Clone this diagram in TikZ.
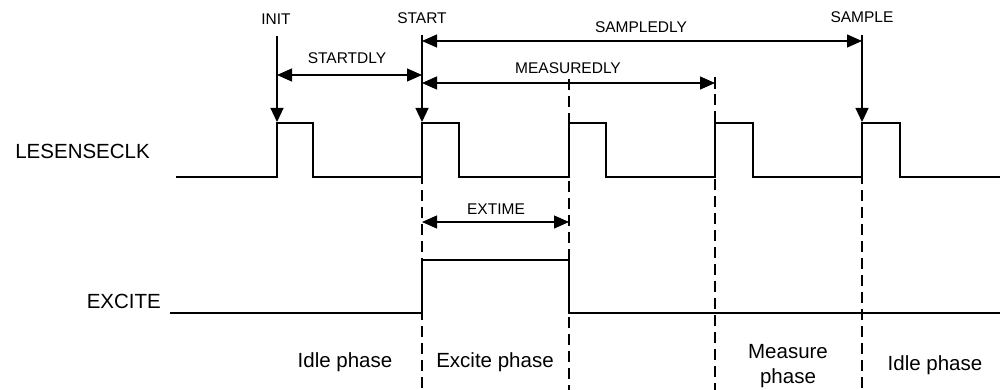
\documentclass[tikz,border=0pt]{standalone}
\usepackage{fontspec}
\setmainfont{Liberation Sans}
\usetikzlibrary{arrows.meta}
\begin{document}
\begin{tikzpicture}[x=1pt,y=-1pt,
  sig/.style={line width=1.6pt},
  marker/.style={line width=1.2pt,-{Triangle[length=14pt,width=13pt]}},
  dimline/.style={line width=1.2pt,{Triangle[length=15pt,width=13pt]}-{Triangle[length=15pt,width=13pt]}},
  guide/.style={line width=1.3pt,dash pattern=on 11pt off 6pt},
  small/.style={font=\fontsize{15.5}{18}\selectfont,inner sep=0pt,anchor=base},
  big/.style={font=\fontsize{20.5}{24}\selectfont,inner sep=0pt,anchor=base}]
\useasboundingbox (0,0) rectangle (1000,390);

% signal labels
\node[big,anchor=base east] (lclk) at (150,159) {LESENSECLK};
\node[big,anchor=base east] (exc) at (161,308) {EXCITE};

% LESENSECLK waveform
\draw[sig] (176,177) -- (277,177) -- (277,123) -- (313,123) -- (313,177)
  -- (422,177) -- (422,123) -- (459,123) -- (459,177)
  -- (569,177) -- (569,123) -- (606,123) -- (606,177)
  -- (715,177) -- (715,123) -- (753,123) -- (753,177)
  -- (862,177) -- (862,123) -- (900,123) -- (900,177) -- (1000,177);

% EXCITE waveform
\draw[sig] (170,313) -- (422,313) -- (422,260) -- (569,260) -- (569,313) -- (1000,313);

% guide lines
\coordinate (gA1) at (422,122); \coordinate (gA2) at (422,390);
\coordinate (gB1) at (569,79);  \coordinate (gB2) at (569,390);
\coordinate (gC1) at (715,77);  \coordinate (gC2) at (715,390);
\coordinate (gD1) at (862,122); \coordinate (gD2) at (862,390);
\draw[guide] (gA1) -- (gA2);
\draw[guide] (gB1) -- (gB2);
\draw[guide] (gC1) -- (gC2);
\draw[guide] (gD1) -- (gD2);
\draw[line width=1.2pt] (715,77) -- (715,89);

% event markers
\node[small] (init) at (276,25) {INIT};
\node[small] (start) at (422,24) {START};
\node[small] (sample) at (862,23) {SAMPLE};
\coordinate (initT) at (277,36);  \coordinate (initB) at (277,122);
\coordinate (startT) at (422,35); \coordinate (startB) at (422,122);
\coordinate (sampT) at (862,35);  \coordinate (sampB) at (862,122);
\draw[marker] (initT) -- (initB);
\draw[marker] (startT) -- (startB);
\draw[marker] (sampT) -- (sampB);

% intervals
\coordinate (sdL) at (277,75);  \coordinate (sdR) at (422,75);
\coordinate (spL) at (422,41);  \coordinate (spR) at (862,41);
\coordinate (mdL) at (422,83);  \coordinate (mdR) at (715,83);
\coordinate (exL) at (422,222); \coordinate (exR) at (569,222);
\draw[dimline] (sdL) -- (sdR);
\draw[dimline] (spL) -- (spR);
\draw[dimline] (mdL) -- (mdR);
\draw[dimline] (exL) -- (exR);
\node[small] (startdly) at (347,64) {STARTDLY};
\node[small] (sampledly) at (641,33) {SAMPLEDLY};
\node[small] (measuredly) at (568,74) {MEASUREDLY};
\node[small] (extime) at (496,214) {EXTIME};

% phases
\node[big] (idle1) at (345,367) {Idle phase};
\node[big] (excph) at (495,367) {Excite phase};
\node[big] (meas1) at (788,358) {Measure};
\node[big] (meas2) at (788,383) {phase};
\node[big] (idle2) at (935,370) {Idle phase};
\end{tikzpicture}
\end{document}
